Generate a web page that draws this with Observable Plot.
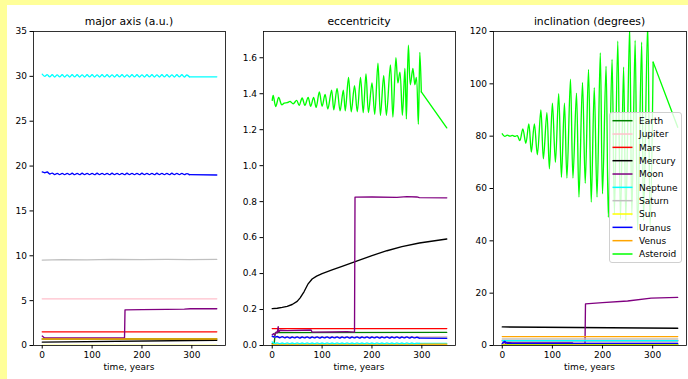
<!DOCTYPE html>
<html><head><meta charset="utf-8">
<script src="https://cdn.jsdelivr.net/npm/d3@7"></script>
<script src="https://cdn.jsdelivr.net/npm/@observablehq/plot@0.6"></script>
<style>
body{margin:0;background:#fff;}
#wrap{position:relative;width:688px;height:379px;background:#ffff99;overflow:hidden;font-family:"DejaVu Sans",sans-serif;color:#000;}
#inner{position:absolute;left:7px;top:5px;right:0;bottom:0;background:#fff;}
.title{position:absolute;font-size:10.8px;line-height:13px;white-space:nowrap;transform:translateX(-50%);top:14.8px;}
.xlab{position:absolute;font-size:9px;line-height:11px;white-space:nowrap;transform:translateX(-50%);top:362.4px;}
</style>
</head><body>
<div id="wrap"><div id="inner"></div></div>
<script>
const bodies = ["Earth","Jupiter","Mars","Mercury","Moon","Neptune","Saturn","Sun","Uranus","Venus","Asteroid"];
const colors = ["#008000","#ffc0cb","#ff0000","#000000","#800080","#00ffff","#c0c0c0","#ffff00","#0000ff","#ffa500","#00ff00"];
const titles = ["major axis (a.u.)","eccentricity","inclination (degrees)"];
const xTicks = [0,100,200,300];
const axisTicks = [0,5,10,15,20,25,30,35];
const eccTicks = [0,0.2,0.4,0.6,0.8,1.0,1.2,1.4,1.6];
const incTicks = [0,20,40,60,80,100,120];
// series whose dense oscillating samples are drawn as a smooth curve
const smoothBodies = ["Neptune","Saturn","Uranus","Asteroid"];

// time samples of the wavy series (years)
const tWave = [0,5,10,15,20,25,30,35,40,45,50,55,60,65,70,75,80,85,90,95,
  100,105,110,115,120,125,130,135,140,145,150,155,160,165,170,175,180,185,190,195,
  200,205,210,215,220,225,230,235,240,245,250,255,260,265,270,275,280,285,290,295,350];

// ---- major axis (a.u.) ----
const neptuneAxis = [30.24,30.0,30.2,29.94,30.18,29.93,30.17,29.94,30.18,29.93,
  30.17,29.93,30.18,29.94,30.18,29.93,30.17,29.93,30.18,29.94,
  30.18,29.93,30.17,29.93,30.18,29.94,30.18,29.93,30.17,29.93,
  30.18,29.94,30.18,29.93,30.17,29.93,30.18,29.94,30.18,29.93,
  30.17,29.93,30.18,29.94,30.18,29.93,30.17,29.93,30.18,29.94,
  30.18,29.93,30.17,29.93,30.18,29.94,30.18,29.93,30.15,29.95,29.95];
const uranusAxis = [19.34,19.26,19.34,19.12,19.22,19.05,19.19,19.04,19.19,19.04,
  19.19,19.05,19.2,19.04,19.19,19.04,19.2,19.05,19.19,19.04,
  19.19,19.04,19.2,19.05,19.19,19.04,19.19,19.04,19.2,19.05,
  19.19,19.04,19.19,19.04,19.2,19.05,19.19,19.04,19.19,19.04,
  19.2,19.05,19.19,19.04,19.19,19.04,19.2,19.05,19.19,19.04,
  19.19,19.04,19.2,19.05,19.19,19.04,19.19,19.04,19.15,19.04,19.0];
const earthAxis = [[0,0.73],[350,0.73]];
const jupiterAxis = [[0,5.2],[350,5.2]];
const marsAxis = [[0,1.52],[350,1.52]];
const mercuryAxis = [[0,0.38],[350,0.58]];
const moonAxis = [[0,1.05],[4,0.86],[165,0.84],[166,3.97],[200,4.0],[250,4.02],[285,4.05],[297,4.1],[350,4.1]];
const saturnAxis = [[0,9.52],[40,9.58],[90,9.55],[140,9.6],[200,9.57],[250,9.6],[295,9.58],[350,9.6]];
const sunAxis = [[0,0.02],[350,0.02]];
const venusAxis = [[0,0.72],[350,0.72]];

// ---- eccentricity ----
const uranusEcc = [0.052,0.047,0.050,0.043,0.049,0.042,0.048,0.041,0.047,0.042,
  0.048,0.041,0.047,0.042,0.048,0.041,0.047,0.042,0.048,0.041,
  0.047,0.042,0.048,0.041,0.047,0.042,0.048,0.041,0.047,0.042,
  0.048,0.041,0.047,0.042,0.048,0.041,0.047,0.042,0.048,0.041,
  0.047,0.042,0.048,0.041,0.047,0.042,0.048,0.041,0.047,0.042,
  0.048,0.041,0.047,0.042,0.048,0.041,0.047,0.042,0.046,0.041,0.040];
const saturnEcc = [0.049,0.045,0.048,0.044,0.048,0.044,0.048,0.045,0.048,0.044,
  0.048,0.044,0.048,0.045,0.048,0.044,0.048,0.044,0.048,0.045,
  0.048,0.044,0.048,0.044,0.048,0.045,0.048,0.044,0.048,0.044,
  0.048,0.045,0.048,0.044,0.048,0.044,0.048,0.045,0.048,0.044,
  0.048,0.044,0.048,0.045,0.048,0.044,0.048,0.044,0.048,0.045,
  0.048,0.044,0.048,0.044,0.048,0.045,0.048,0.044,0.047,0.045,0.046];
const neptuneEcc = [0.020,0.011,0.015,0.010,0.014,0.010,0.015,0.010,0.014,0.010,
  0.015,0.010,0.014,0.010,0.015,0.010,0.014,0.010,0.015,0.010,
  0.014,0.010,0.015,0.010,0.014,0.010,0.015,0.010,0.014,0.010,
  0.015,0.010,0.014,0.010,0.015,0.010,0.014,0.010,0.015,0.010,
  0.014,0.010,0.015,0.010,0.014,0.010,0.015,0.010,0.014,0.010,
  0.015,0.010,0.014,0.010,0.015,0.010,0.014,0.010,0.013,0.011,0.012];
const earthEcc = [[0,0.010],[4,0.012],[6,0.070],[10,0.072],[350,0.073]];
const jupiterEcc = [[0,0.048],[350,0.048]];
const marsEcc = [[0,0.094],[350,0.094]];
const mercuryEcc = [[0,0.205],[10,0.207],[20,0.212],[30,0.218],[40,0.228],[50,0.245],[56,0.265],[64,0.30],
  [72,0.343],[80,0.37],[89,0.386],[100,0.40],[120,0.42],[140,0.44],[165,0.465],[200,0.50],
  [230,0.527],[260,0.55],[295,0.57],[350,0.592]];
const moonEcc = [[0,0.060],[3,0.066],[5,0.058],[8,0.075],[10,0.070],[12,0.105],[13,0.075],[16,0.085],
  [30,0.083],[60,0.085],[78,0.086],[80,0.074],[120,0.075],[150,0.077],[165,0.074],[166,0.825],
  [200,0.826],[250,0.824],[270,0.828],[290,0.826],[295,0.822],[350,0.821]];
const sunEcc = [[0,0.003],[350,0.003]];
const venusEcc = [[0,0.008],[350,0.008]];
const asteroidEcc = [[0,1.363],[2,1.39],[7,1.329],[13,1.379],[19,1.339],[24,1.348],[30,1.35],[36,1.357],
  [42,1.344],[49,1.363],[54,1.335],[60,1.376],[65.5,1.335],[72,1.38],[77,1.33],[83,1.38],
  [88,1.324],[94.5,1.41],[100,1.33],[106,1.396],[111.5,1.315],[119,1.42],[123.5,1.31],[130,1.43],
  [136,1.305],[142.5,1.42],[146.5,1.305],[153,1.49],[158.5,1.30],[165,1.445],[170.5,1.30],[177,1.49],
  [182.5,1.295],[188,1.51],[193,1.295],[200,1.46],[205.5,1.285],[212,1.57],[217,1.28],[223.5,1.50],
  [229,1.28],[237,1.56],[242,1.27],[248,1.60],[252,1.46],[256,1.52],[261,1.28],[266,1.54],
  [269,1.26],[273,1.67],[277,1.45],[282,1.54],[286,1.45],[289,1.49],[293,1.23],[296,1.63],
  [299,1.41],[350,1.21]];

// ---- inclination (degrees) ----
const earthInc = [[0,0.3],[350,0.3]];
const jupiterInc = [[0,1.3],[350,1.3]];
const marsInc = [[0,1.85],[350,1.85]];
const mercuryInc = [[0,7.1],[350,6.6]];
const moonInc = [[0,0.5],[3,1.5],[6,0.8],[10,1.2],[20,1.0],[140,1.0],[142,0.5],[165,0.5],[166,15.9],
  [200,16.4],[250,17.0],[297,18.1],[350,18.4]];
const neptuneInc = [[0,1.8],[350,1.8]];
const saturnInc = [[0,2.5],[350,2.5]];
const sunInc = [[0,0.2],[350,0.2]];
const uranusInc = [[0,0.8],[5,1.6],[10,0.8],[350,0.8]];
const venusInc = [[0,3.4],[350,3.4]];
const asteroidInc = [[0,80.9],[5,79.9],[10,80.4],[15,80.0],[20,80.3],[25,79.9],[30,80.2],[35,78.3],
  [41,82.8],[47,77.3],[53,84.7],[58,73.9],[64,84.7],[70,72.9],[77,90],[82,71.3],
  [89,89],[94,67.5],[100,92.6],[106,70],[112.5,96.2],[118,64.3],[124,92.6],[129,64],
  [136,101.8],[141,64],[148,96.4],[153,56.7],[160,100.5],[165.5,62],[172,105.5],[177.5,54.8],
  [183.5,98.5],[189,56.7],[195.5,111.8],[200,58],[207,106.7],[211.6,49],[219,109.3],[223.7,50.3],
  [230.4,116.3],[235.8,48.4],[242,106.4],[246.5,47.8],[254,122],[258.5,49.7],[265,116.6],[270,44],
  [278,115.9],[282,47.8],[290,123],[295,45],[301,108.3],[350,83.4]];

const pair = (ts, vs) => ts.map((t, i) => [t, vs[i]]);
const axisSeries = {Earth: earthAxis, Jupiter: jupiterAxis, Mars: marsAxis, Mercury: mercuryAxis, Moon: moonAxis,
  Neptune: pair(tWave, neptuneAxis), Saturn: saturnAxis, Sun: sunAxis, Uranus: pair(tWave, uranusAxis), Venus: venusAxis};
const eccSeries = {Earth: earthEcc, Jupiter: jupiterEcc, Mars: marsEcc, Mercury: mercuryEcc, Moon: moonEcc,
  Neptune: pair(tWave, neptuneEcc), Saturn: pair(tWave, saturnEcc), Sun: sunEcc, Uranus: pair(tWave, uranusEcc),
  Venus: venusEcc, Asteroid: asteroidEcc};
const incSeries = {Earth: earthInc, Jupiter: jupiterInc, Mars: marsInc, Mercury: mercuryInc, Moon: moonInc,
  Neptune: neptuneInc, Saturn: saturnInc, Sun: sunInc, Uranus: uranusInc, Venus: venusInc, Asteroid: asteroidInc};

// dense oscillating parts are drawn smoothly; their last (sparse) segment stays straight
function rowsOf(series) {
  const straight = [], smooth = [];
  for (const b of bodies) {
    const s = series[b];
    if (!s) continue;
    if (smoothBodies.includes(b) && s.length > 20) {
      s.slice(0, -1).forEach(([t, v]) => smooth.push({body: b, c: b, t, v}));
      s.slice(-2).forEach(([t, v]) => straight.push({body: b + "_tail", c: b, t, v}));
    } else {
      s.forEach(([t, v]) => straight.push({body: b, c: b, t, v}));
    }
  }
  return {straight, smooth};
}

function panel(rows, yDomain, yTicks, yFmt, width, ml, mr) {
  return Plot.plot({
    width, height: 379, marginLeft: ml, marginRight: mr, marginTop: 31, marginBottom: 34,
    style: {background: "transparent", fontFamily: "DejaVu Sans", fontSize: "9px", color: "#000", overflow: "visible"},
    x: {domain: [-17.5, 367.5]},
    y: {domain: yDomain},
    color: {domain: bodies, range: colors},
    marks: [
      Plot.line(rows.straight, {x: "t", y: "v", z: "body", stroke: "c", strokeWidth: 1.35, clip: true}),
      Plot.line(rows.smooth, {x: "t", y: "v", z: "body", stroke: "c", strokeWidth: 1.35, curve: "catmull-rom", clip: true}),
      Plot.frame({stroke: "#000", strokeWidth: 0.8}),
      Plot.axisX({ticks: xTicks, tickSize: 3.5, tickPadding: 3, label: null}),
      Plot.axisY({ticks: yTicks, tickFormat: yFmt, tickSize: 3.5, tickPadding: 3, label: null})
    ]
  });
}

const wrap = document.getElementById("wrap");
const specs = [
  {rows: rowsOf(axisSeries), dom: [0, 35], ticks: axisTicks, fmt: d3.format("d"), left: 0, w: 230, ml: 33, mr: 5, cx: 129},
  {rows: rowsOf(eccSeries), dom: [0, 1.746], ticks: eccTicks, fmt: d3.format(".1f"), left: 230, w: 230, ml: 33, mr: 5, cx: 359},
  {rows: rowsOf(incSeries), dom: [0, 120], ticks: incTicks, fmt: d3.format("d"), left: 460, w: 228, ml: 33, mr: 2, cx: 589.5}
];
specs.forEach((s, i) => {
  const p = panel(s.rows, s.dom, s.ticks, s.fmt, s.w, s.ml, s.mr);
  p.style.position = "absolute";
  p.style.left = s.left + "px";
  p.style.top = "0px";
  wrap.appendChild(p);
  const t = document.createElement("div");
  t.className = "title"; t.style.left = s.cx + "px"; t.textContent = titles[i];
  wrap.appendChild(t);
  const xl = document.createElement("div");
  xl.className = "xlab"; xl.style.left = s.cx + "px"; xl.textContent = "time, years";
  wrap.appendChild(xl);
});

// legend (line swatches like matplotlib)
const lg = d3.create("svg")
  .attr("width", 74).attr("height", 152)
  .style("position", "absolute").style("left", "609px").style("top", "112px")
  .style("font-family", "DejaVu Sans").style("font-size", "9px");
lg.append("rect").attr("x", 0.5).attr("y", 0.5).attr("width", 72).attr("height", 150)
  .attr("rx", 2.5).attr("fill", "rgba(255,255,255,0.8)").attr("stroke", "#d0d0d0").attr("stroke-width", 1);
bodies.forEach((b, i) => {
  const cy = 8.7 + i * 13.33;
  lg.append("line").attr("x1", 3.5).attr("x2", 23.5).attr("y1", cy).attr("y2", cy)
    .attr("stroke", colors[i]).attr("stroke-width", 1.5);
  lg.append("text").attr("x", 30).attr("y", cy + 3.4).attr("fill", "#000").text(b);
});
wrap.appendChild(lg.node());
</script>
</body></html>
